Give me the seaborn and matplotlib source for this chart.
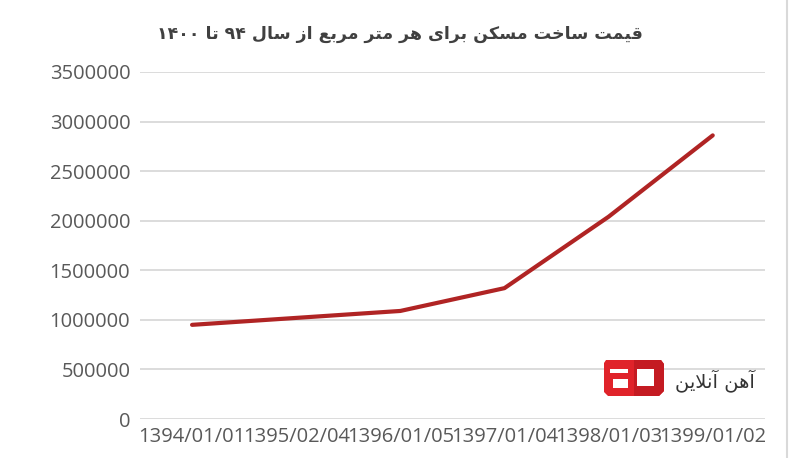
import matplotlib
matplotlib.use("Agg")
import matplotlib.pyplot as plt
from matplotlib.patches import Polygon, Rectangle
import seaborn as sns
import pandas as pd

# data
dates = ["1394/01/01", "1395/02/04", "1396/01/05", "1397/01/04", "1398/01/03", "1399/01/02"]
price = [950000, 1020000, 1090000, 1320000, 2040000, 2860000]
y_ticks = [0, 500000, 1000000, 1500000, 2000000, 2500000, 3000000, 3500000]
title = "قیمت ساخت مسکن برای هر متر مربع از سال ۹۴ تا ۱۴۰۰"
brand = "آهن آنلاین"

# minimal arabic shaping (isolated, final, initial, medial)
FORMS = {
    "ا": ("\uFE8D", "\uFE8E", None, None),
    "آ": ("\uFE81", "\uFE82", None, None),
    "ب": ("\uFE8F", "\uFE90", "\uFE91", "\uFE92"),
    "ت": ("\uFE95", "\uFE96", "\uFE97", "\uFE98"),
    "خ": ("\uFEA5", "\uFEA6", "\uFEA7", "\uFEA8"),
    "ر": ("\uFEAD", "\uFEAE", None, None),
    "ز": ("\uFEAF", "\uFEB0", None, None),
    "س": ("\uFEB1", "\uFEB2", "\uFEB3", "\uFEB4"),
    "ع": ("\uFEC9", "\uFECA", "\uFECB", "\uFECC"),
    "ق": ("\uFED5", "\uFED6", "\uFED7", "\uFED8"),
    "ل": ("\uFEDD", "\uFEDE", "\uFEDF", "\uFEE0"),
    "م": ("\uFEE1", "\uFEE2", "\uFEE3", "\uFEE4"),
    "ن": ("\uFEE5", "\uFEE6", "\uFEE7", "\uFEE8"),
    "ه": ("\uFEE9", "\uFEEA", "\uFEEB", "\uFEEC"),
    "ک": ("\uFB8E", "\uFB8F", "\uFB90", "\uFB91"),
    "ی": ("\uFBFC", "\uFBFD", "\uFBFE", "\uFBFF"),
}
LAM_ALEF = {"ا": ("\uFEFB", "\uFEFC"), "آ": ("\uFEF5", "\uFEF6")}


def shape_word(word):
    if word[0] not in FORMS:
        return word
    out = []
    i = 0
    while i < len(word):
        c = word[i]
        prev = word[i - 1] if i > 0 else None
        nxt = word[i + 1] if i + 1 < len(word) else None
        jp = prev is not None and FORMS[prev][2] is not None
        if c == "ل" and nxt in LAM_ALEF:
            out.append(LAM_ALEF[nxt][1 if jp else 0])
            i += 2
            continue
        jn = nxt is not None and FORMS[c][2] is not None
        if jp and jn:
            out.append(FORMS[c][3])
        elif jp:
            out.append(FORMS[c][1])
        elif jn:
            out.append(FORMS[c][2])
        else:
            out.append(FORMS[c][0])
        i += 1
    return "".join(reversed(out))


def rtl(text):
    return " ".join(shape_word(w) for w in reversed(text.split(" ")))


df = pd.DataFrame({"date": dates, "price": price})

sns.set_theme(style="whitegrid")
plt.rcParams["font.family"] = ["Open Sans", "DejaVu Sans"]

fig = plt.figure(figsize=(8, 4.58), dpi=100)
ax = fig.add_axes([0.175, 0.085, 0.781, 0.758])

sns.lineplot(data=df, x="date", y="price", ax=ax, color="#b02424",
             linewidth=3, sort=False)
ax.lines[0].set_solid_capstyle("round")

ax.set_xlim(-0.5, len(dates) - 0.5)
ax.set_ylim(0, 3500000)
ax.set_yticks(y_ticks)
ax.set_yticklabels([str(v) for v in y_ticks])
ax.set_xlabel("")
ax.set_ylabel("")
ax.grid(axis="x", visible=False)
ax.grid(axis="y", color="#d9d9d9", linewidth=1.3)
for s in ax.spines.values():
    s.set_visible(False)
ax.tick_params(axis="both", labelsize=14.5, labelcolor="#595959", length=0)
ax.tick_params(axis="y", pad=7)
ax.tick_params(axis="x", pad=6)

fig.text(0.5, 0.926, rtl(title), ha="center", va="center", fontsize=12.5,
         fontweight="bold", color="#404040", family=["DejaVu Sans"])

# watermark logo
lg = fig.add_axes([598 / 800, 1 - 400 / 458, 70 / 800, 45 / 458])
lg.set_xlim(0, 70)
lg.set_ylim(45, 0)
lg.axis("off")
lg.add_patch(Polygon([(8, 5), (63, 5), (66, 9), (66, 36), (61, 41), (10, 41), (6, 37), (6, 8)],
                     closed=True, color="#e0232a", lw=0))
lg.add_patch(Polygon([(36, 5), (63, 5), (66, 9), (66, 36), (61, 41), (36, 41)],
                     closed=True, color="#c41b22", lw=0))
lg.add_patch(Rectangle((39, 14), 17, 17, color="white", lw=0))
lg.add_patch(Rectangle((12, 14), 18, 4, color="white", lw=0))
lg.add_patch(Rectangle((15, 24), 15, 9, color="white", lw=0))
fig.text(675 / 800, 1 - 381 / 458, rtl(brand), ha="left", va="center",
         fontsize=14, color="#333333", family=["DejaVu Sans"])

# right border of the picture
fig.add_artist(plt.Line2D([787 / 800, 787 / 800], [0, 1], color="#d9d9d9", lw=1.5))

fig.savefig("out.png", dpi=100, facecolor="white")
